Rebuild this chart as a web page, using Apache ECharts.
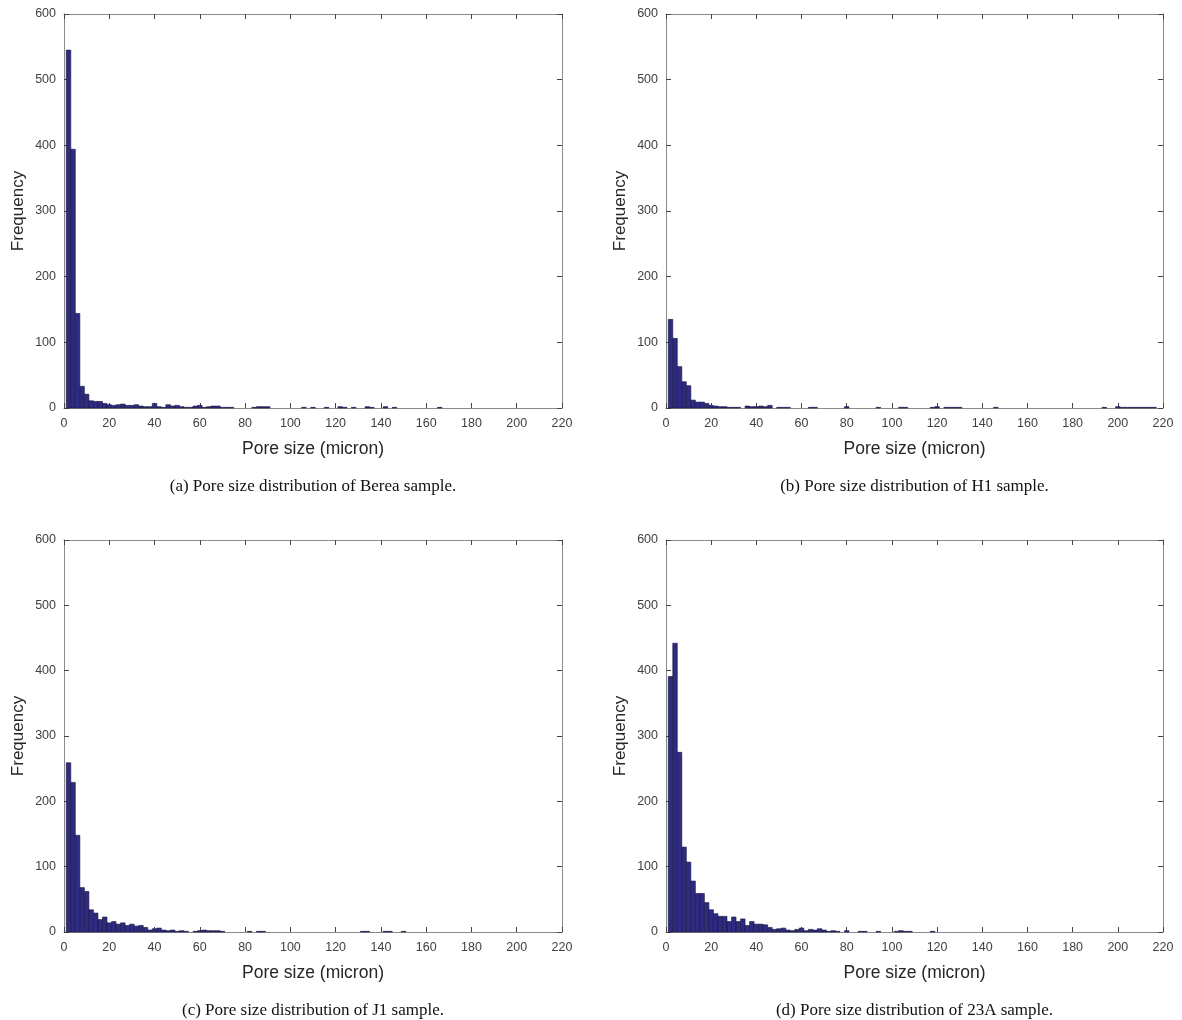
<!DOCTYPE html>
<html>
<head>
<meta charset="utf-8">
<script src="https://cdn.jsdelivr.net/npm/echarts@6/dist/echarts.min.js"></script>
<style>
  html, body { margin: 0; padding: 0; background: #ffffff; }
  #chart { width: 1182px; height: 1020px; }
</style>
</head>
<body>
<div id="chart"></div>
<script>
// ---- Data (histogram counts, bins of 2 micron starting at 1 micron) ----
const binStart = 1;
const binWidth = 2;

const countsBerea = [545, 394, 144, 33, 21, 11, 10, 10, 7, 5, 4, 5, 6, 4, 4, 5, 3, 2, 2, 7,
  2, 1, 5, 3, 4, 2, 1, 1, 3, 4, 1, 2, 3, 3, 1, 1, 1, 0, 0, 0,
  0, 1, 2, 2, 2, 0, 0, 0, 0, 0, 0, 0, 1, 0, 1, 0, 0, 1, 0, 0,
  2, 1, 0, 1, 0, 0, 2, 1, 0, 0, 2, 0, 1, 0, 0, 0, 0, 0, 0, 0,
  0, 0, 1];

const countsH1 = [135, 106, 63, 40, 34, 12, 9, 9, 7, 4, 3, 2, 2, 1, 1, 1, 0, 3, 2, 2,
  3, 2, 4, 0, 1, 1, 1, 0, 0, 0, 0, 1, 1, 0, 0, 0, 0, 0, 0, 2,
  0, 0, 0, 0, 0, 0, 1, 0, 0, 0, 0, 1, 1, 0, 0, 0, 0, 0, 1, 2,
  0, 1, 1, 1, 1, 0, 0, 0, 0, 0, 0, 0, 1, 0, 0, 0, 0, 0, 0, 0,
  0, 0, 0, 0, 0, 0, 0, 0, 0, 0, 0, 0, 0, 0, 0, 0, 1, 0, 0, 2,
  1, 1, 1, 1, 1, 1, 1, 1];

const countsJ1 = [259, 229, 148, 68, 62, 34, 29, 19, 23, 14, 16, 12, 14, 10, 12, 9, 10, 7, 3, 5,
  6, 3, 2, 3, 1, 2, 1, 0, 1, 2, 3, 2, 2, 2, 1, 0, 0, 0, 0, 0,
  1, 0, 1, 1, 0, 0, 0, 0, 0, 0, 0, 0, 0, 0, 0, 0, 0, 0, 0, 0,
  0, 0, 0, 0, 0, 1, 1, 0, 0, 0, 1, 1, 0, 0, 1];

const counts23A = [391, 442, 275, 130, 107, 78, 59, 59, 45, 34, 28, 24, 24, 16, 23, 16, 20, 10, 16, 12,
  12, 11, 7, 4, 5, 6, 3, 2, 4, 6, 2, 4, 3, 5, 3, 1, 2, 1, 0, 2,
  0, 0, 1, 1, 0, 0, 1, 0, 0, 0, 1, 2, 1, 1, 0, 0, 0, 0, 1];

const panelCounts = [countsBerea, countsH1, countsJ1, counts23A];
const captions = [
  '(a) Pore size distribution of Berea sample.',
  '(b) Pore size distribution of H1 sample.',
  '(c) Pore size distribution of J1 sample.',
  '(d) Pore size distribution of 23A sample.'
];
const xAxisName = 'Pore size (micron)';
const yAxisName = 'Frequency';
const xMin = 0, xMax = 220, xStep = 20;
const yMin = 0, yMax = 600, yStep = 100;

// ---- Layout ----
const grids = [
  { left: 64, top: 14, width: 498, height: 394 },
  { left: 666, top: 14, width: 497, height: 394 },
  { left: 64, top: 540, width: 498, height: 392 },
  { left: 666, top: 540, width: 497, height: 392 }
];
const captionY = [487, 487, 1011, 1011];

const axisColor = '#8a8a8a';
const labelColor = '#404040';
const sansFont = '"Liberation Sans", Arial, Helvetica, sans-serif';
const serifFont = '"Liberation Serif", "DejaVu Serif", serif';

function toBins(counts) {
  return counts.map((c, i) => [binStart + i * binWidth, binStart + (i + 1) * binWidth, c]);
}

const xAxes = [], yAxes = [], series = [], graphics = [];
grids.forEach((g, i) => {
  xAxes.push({
    gridIndex: i, type: 'value', position: 'bottom',
    min: xMin, max: xMax, interval: xStep,
    name: xAxisName, nameLocation: 'middle', nameGap: 32,
    nameTextStyle: { fontFamily: sansFont, fontSize: 17.5, color: '#262626' },
    axisLine: { show: true, onZero: false, lineStyle: { color: axisColor, width: 1 } },
    axisTick: { show: true, inside: true, length: 5, lineStyle: { color: '#444' } },
    axisLabel: { show: true, margin: 9, fontFamily: sansFont, fontSize: 12.5, color: labelColor },
    splitLine: { show: false }
  });
  xAxes.push({
    gridIndex: i, type: 'value', position: 'top',
    min: xMin, max: xMax, interval: xStep,
    axisLine: { show: true, onZero: false, lineStyle: { color: axisColor, width: 1 } },
    axisTick: { show: true, inside: true, length: 5, lineStyle: { color: '#444' } },
    axisLabel: { show: false },
    splitLine: { show: false }
  });
  yAxes.push({
    gridIndex: i, type: 'value', position: 'left',
    min: yMin, max: yMax, interval: yStep,
    name: yAxisName, nameLocation: 'middle', nameGap: 37, nameRotate: 90,
    nameTextStyle: { fontFamily: sansFont, fontSize: 17, color: '#262626' },
    axisLine: { show: true, onZero: false, lineStyle: { color: axisColor, width: 1 } },
    axisTick: { show: true, inside: true, length: 5, lineStyle: { color: '#444' } },
    axisLabel: { show: true, margin: 8, fontFamily: sansFont, fontSize: 12.5, color: labelColor },
    splitLine: { show: false }
  });
  yAxes.push({
    gridIndex: i, type: 'value', position: 'right',
    min: yMin, max: yMax, interval: yStep,
    axisLine: { show: true, onZero: false, lineStyle: { color: axisColor, width: 1 } },
    axisTick: { show: true, inside: true, length: 5, lineStyle: { color: '#444' } },
    axisLabel: { show: false },
    splitLine: { show: false }
  });
  series.push({
    type: 'custom',
    xAxisIndex: 2 * i,
    yAxisIndex: 2 * i,
    data: toBins(panelCounts[i]),
    encode: { x: [0, 1], y: 2 },
    renderItem: function (params, api) {
      const c = api.value(2);
      if (!c) return null;
      const p0 = api.coord([api.value(0), c]);
      const p1 = api.coord([api.value(1), 0]);
      return {
        type: 'rect',
        shape: { x: p0[0], y: p0[1], width: p1[0] - p0[0], height: p1[1] - p0[1] },
        style: { fill: '#2f2a82', stroke: '#17153d', lineWidth: 0.6 }
      };
    },
    animation: false
  });
  graphics.push({
    type: 'text',
    x: g.left + g.width / 2,
    y: captionY[i],
    style: {
      text: captions[i],
      fontFamily: serifFont,
      fontSize: 17,
      fill: '#111',
      textAlign: 'center',
      textVerticalAlign: 'middle'
    }
  });
});

const chart = echarts.init(document.getElementById('chart'), null, { renderer: 'canvas' });
chart.setOption({
  backgroundColor: '#ffffff',
  animation: false,
  grid: grids.map(g => Object.assign({ containLabel: false }, g)),
  xAxis: xAxes,
  yAxis: yAxes,
  series: series,
  graphic: graphics
});
</script>
</body>
</html>
